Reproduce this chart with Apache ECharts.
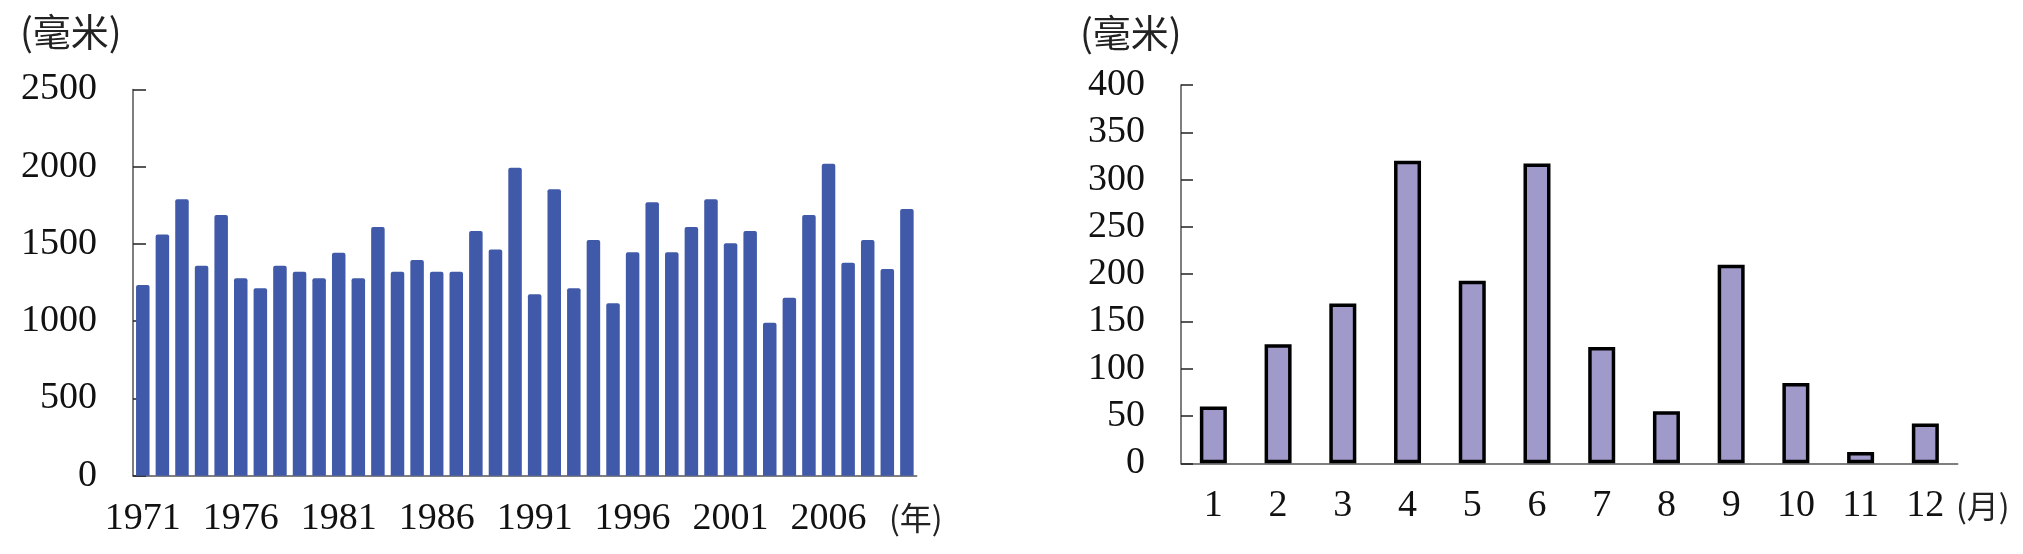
<!DOCTYPE html>
<html>
<head>
<meta charset="utf-8">
<script src="https://cdn.jsdelivr.net/npm/echarts@6/dist/echarts.min.js"></script>
<style>
html,body{margin:0;padding:0;background:#fff;}
#chart{width:2023px;height:554px;}
</style>
</head>
<body>
<div id="chart"></div>
<script>
// Annual precipitation 1971-2010 (mm)
var years = [];
for (var y = 1971; y <= 2010; y++) years.push(String(y));
var annualRain = [1234,1562,1789,1359,1688,1278,1213,1359,1320,1278,
                  1443,1278,1610,1320,1396,1320,1320,1584,1465,1994,
                  1174,1854,1213,1526,1116,1446,1770,1446,1610,1789,
                  1504,1584,990,1152,1688,2020,1379,1526,1338,1726];
// Monthly precipitation (mm)
var months = ['1','2','3','4','5','6','7','8','9','10','11','12'];
var monthlyRain = [60,126,169,320,193,317,123,55,210,85,12,42];

var unitText = '(毫米)';
var yearUnit = '(年)';
var monthUnit = '(月)';

var serif = '"Liberation Serif", "DejaVu Serif", serif';
var cjk = '"Noto Sans CJK SC", "Liberation Serif", serif';
var axisColor = '#555';
function plain(v) { return String(v); }

var chart = echarts.init(document.getElementById('chart'));
chart.setOption({
  backgroundColor: '#fff',
  animation: false,
  grid: [
    {left: 133, top: 89.5, width: 783.7, height: 386.2},
    {left: 1181, top: 85, width: 776.7, height: 378.3}
  ],
  xAxis: [
    {
      type: 'category', gridIndex: 0, data: years, boundaryGap: true,
      axisLine: {lineStyle: {color: axisColor, width: 1.5}},
      axisTick: {inside: true, length: 12, interval: 4, lineStyle: {color: axisColor, width: 1.5}},
      axisLabel: {interval: 4, margin: 24, color: '#111', fontFamily: serif, fontSize: 38}
    },
    {
      type: 'category', gridIndex: 1, data: months, boundaryGap: true,
      axisLine: {lineStyle: {color: axisColor, width: 1.5}},
      axisTick: {inside: true, length: 12, interval: 0, lineStyle: {color: axisColor, width: 1.5}},
      axisLabel: {interval: 0, margin: 24, color: '#111', fontFamily: serif, fontSize: 38}
    }
  ],
  yAxis: [
    {
      type: 'value', gridIndex: 0, min: 0, max: 2500, interval: 500,
      splitLine: {show: false},
      axisLine: {show: true, lineStyle: {color: axisColor, width: 1.5}},
      axisTick: {show: true, inside: true, length: 13, lineStyle: {color: '#222', width: 1.5}},
      axisLabel: {margin: 36, color: '#111', fontFamily: serif, fontSize: 38, formatter: plain}
    },
    {
      type: 'value', gridIndex: 1, min: 0, max: 400, interval: 50,
      splitLine: {show: false},
      axisLine: {show: true, lineStyle: {color: axisColor, width: 1.5}},
      axisTick: {show: true, inside: true, length: 12, lineStyle: {color: '#222', width: 1.5}},
      axisLabel: {margin: 36, color: '#111', fontFamily: serif, fontSize: 38, formatter: plain}
    }
  ],
  series: [
    {
      type: 'bar', xAxisIndex: 0, yAxisIndex: 0, data: annualRain,
      barWidth: 13.5,
      itemStyle: {color: '#4059a8', borderRadius: [2, 2, 0, 0]}
    },
    {
      type: 'bar', xAxisIndex: 1, yAxisIndex: 1, data: monthlyRain,
      barWidth: 27,
      itemStyle: {color: '#a09acb', borderColor: '#000', borderWidth: 3.5}
    }
  ],
  graphic: [
    {type: 'text', left: 20, top: 13, style: {text: unitText, font: '38px ' + cjk, fill: '#222'}},
    {type: 'text', left: 1080, top: 14, style: {text: unitText, font: '38px ' + cjk, fill: '#222'}},
    {type: 'text', left: 889, top: 502, style: {text: yearUnit, font: '32px ' + cjk, fill: '#222'}},
    {type: 'text', left: 1956, top: 490, style: {text: monthUnit, font: '32px ' + cjk, fill: '#222'}}
  ]
});
</script>
</body>
</html>
